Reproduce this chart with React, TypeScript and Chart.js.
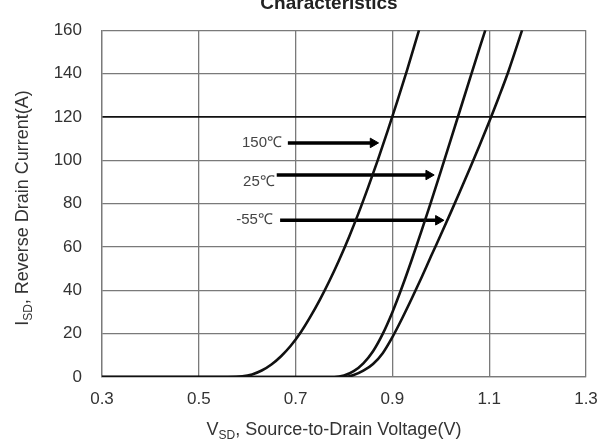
import React, { useEffect, useRef } from 'react';
import { Chart, registerables } from 'chart.js';

Chart.register(...registerables);

const FONT = '"Liberation Sans", Arial, sans-serif';

const titleText = 'Characteristics';
const xTickValues = [0.3, 0.5, 0.7, 0.9, 1.1, 1.3];
const yTickValues = [0, 20, 40, 60, 80, 100, 120, 140, 160];

// 150 °C curve
const v150 = [0.30, 0.56, 0.59, 0.61, 0.63, 0.65, 0.67, 0.69, 0.71, 0.73, 0.75, 0.77, 0.79, 0.81, 0.83, 0.85, 0.87, 0.89, 0.91, 0.93, 0.955];
const i150 = [0, 0, 0.3, 1.2, 3.0, 5.8, 9.6, 14.4, 20.4, 27.6, 35.6, 44.4, 54, 64.4, 75.6, 87.6, 100.2, 113.4, 127.2, 141.4, 160];
// 25 °C curve
const v25 = [0.30, 0.78, 0.80, 0.82, 0.84, 0.86, 0.88, 0.90, 0.92, 0.94, 0.96, 0.98, 1.00, 1.02, 1.04, 1.06, 1.08, 1.092];
const i25 = [0, 0, 0.7, 2.7, 6.3, 11.9, 19.9, 29.9, 41.5, 54.1, 67.3, 80.9, 94.9, 109.1, 123.3, 137.5, 151.7, 160];
// -55 °C curve
const v55 = [0.30, 0.80, 0.82, 0.84, 0.86, 0.88, 0.90, 0.92, 0.94, 0.96, 0.98, 1.00, 1.02, 1.04, 1.06, 1.08, 1.10, 1.12, 1.14, 1.168];
const i55 = [0, 0, 0.9, 2.9, 6.0, 11.0, 18.4, 27.0, 36.2, 45.8, 55.8, 65.6, 75.6, 85.8, 96.2, 106.8, 117.8, 129.2, 141.2, 160];

// annotation labels and arrows (data coordinates)
const tempLabels = ['150℃', '25℃', '-55℃'];
const labelV = [0.672, 0.657, 0.653];
const labelI = [108, 90, 72.3];
const arrowStartV = [0.684, 0.661, 0.668];
const arrowEndV = [0.860, 0.975, 0.995];
const arrowI = [108, 93.2, 72.3];

type Part = { t: string; s: number; dy: number };

function drawParts(ctx: CanvasRenderingContext2D, parts: Part[], cx: number, baseY: number) {
  let total = 0;
  const widths = parts.map((p) => {
    ctx.font = `${p.s}px ${FONT}`;
    const w = ctx.measureText(p.t).width;
    total += w;
    return w;
  });
  let x = cx - total / 2;
  ctx.textAlign = 'left';
  ctx.textBaseline = 'alphabetic';
  parts.forEach((p, k) => {
    ctx.font = `${p.s}px ${FONT}`;
    ctx.fillText(p.t, x, baseY + p.dy);
    x += widths[k];
  });
}

const textPlugin = {
  id: 'texts',
  afterDraw(chart: any) {
    const ctx: CanvasRenderingContext2D = chart.ctx;
    const xs = chart.scales.x;
    const ys = chart.scales.y;
    ctx.save();
    // title (partly cut off at the top)
    ctx.fillStyle = '#222';
    ctx.font = `bold 19px ${FONT}`;
    ctx.textAlign = 'center';
    ctx.textBaseline = 'alphabetic';
    ctx.fillText(titleText, 329, 8.5);

    // temperature labels
    ctx.fillStyle = '#444';
    ctx.font = `15px ${FONT}`;
    ctx.textAlign = 'right';
    ctx.textBaseline = 'middle';
    tempLabels.forEach((t, k) => {
      ctx.fillText(t, xs.getPixelForValue(labelV[k]), ys.getPixelForValue(labelI[k]));
    });

    // x axis title
    ctx.fillStyle = '#333';
    drawParts(
      ctx,
      [
        { t: 'V', s: 18, dy: 0 },
        { t: 'SD', s: 12, dy: 4 },
        { t: ', Source-to-Drain Voltage(V)', s: 18, dy: 0 },
      ],
      334,
      435
    );

    // y axis title
    ctx.save();
    ctx.translate(28, 208);
    ctx.rotate(-Math.PI / 2);
    drawParts(
      ctx,
      [
        { t: 'I', s: 18, dy: 0 },
        { t: 'SD', s: 12, dy: 4 },
        { t: ', Reverse Drain Current(A)', s: 18, dy: 0 },
      ],
      0,
      0
    );
    ctx.restore();
    ctx.restore();
  },
};

function curve(v: number[], i: number[]) {
  return {
    data: v.map((x, k) => ({ x, y: i[k] })),
    borderColor: '#111',
    borderWidth: 2.6,
    pointRadius: 0,
    cubicInterpolationMode: 'monotone' as const,
    fill: false,
  };
}

function arrow(k: number) {
  return {
    data: [
      { x: arrowStartV[k], y: arrowI[k] },
      { x: arrowEndV[k], y: arrowI[k] },
    ],
    borderColor: '#000',
    borderWidth: 3.5,
    pointRadius: [0, 5.5],
    pointStyle: 'triangle',
    pointRotation: 90,
    pointBackgroundColor: '#000',
    pointBorderColor: '#000',
    pointBorderWidth: 1,
    fill: false,
  };
}

export default function App() {
  const ref = useRef<HTMLCanvasElement>(null);
  useEffect(() => {
    if (!ref.current) return;
    const gridGray = '#7a7a7a';
    const chart = new Chart(ref.current, {
      type: 'line',
      data: {
        datasets: [curve(v150, i150), curve(v25, i25), curve(v55, i55), arrow(0), arrow(1), arrow(2)] as any,
      },
      options: {
        animation: false,
        responsive: false,
        events: [],
        layout: { padding: { top: 23, right: 27, left: 0, bottom: 0 } },
        plugins: { legend: { display: false }, tooltip: { enabled: false }, title: { display: false } },
        scales: {
          x: {
            type: 'linear',
            min: 0.3,
            max: 1.3,
            afterBuildTicks: (s: any) => {
              s.ticks = xTickValues.map((value) => ({ value }));
            },
            afterFit: (s: any) => {
              s.height = 63;
            },
            ticks: {
              padding: 12,
              color: '#333',
              font: { family: FONT, size: 17 },
              callback: (v: any) => Number(v).toFixed(1),
              maxRotation: 0,
            },
            grid: { color: gridGray, lineWidth: 1.3, drawTicks: false },
            border: { display: true, color: gridGray, width: 1.3 },
          },
          y: {
            type: 'linear',
            min: 0,
            max: 160,
            afterBuildTicks: (s: any) => {
              s.ticks = yTickValues.map((value) => ({ value }));
            },
            afterFit: (s: any) => {
              s.width = 102;
            },
            ticks: {
              padding: 20,
              color: '#333',
              font: { family: FONT, size: 17 },
            },
            grid: {
              color: (c: any) => (c.tick && c.tick.value === 120 ? '#111' : gridGray),
              lineWidth: (c: any) => (c.tick && c.tick.value === 120 ? 1.7 : 1.3),
              drawTicks: false,
            },
            border: { display: true, color: gridGray, width: 1.3 },
          },
        },
      },
      plugins: [textPlugin],
    });
    return () => chart.destroy();
  }, []);
  return (
    <div style={{ position: 'absolute', left: 0, top: 0, width: 613, height: 440, background: '#fff' }}>
      <canvas ref={ref} width={613} height={440} style={{ width: 613, height: 440, display: 'block' }} />
    </div>
  );
}
